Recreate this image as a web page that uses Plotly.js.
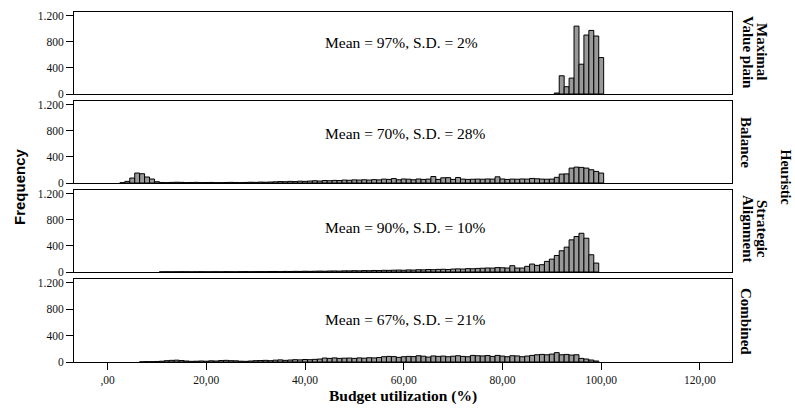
<!DOCTYPE html>
<html>
<head>
<meta charset="utf-8">
<script src="https://cdn.plot.ly/plotly-3.0.1.min.js"></script>
<style>html,body{margin:0;padding:0;background:#fff;}#chart{width:795px;height:410px;}</style>
</head>
<body>
<div id="chart"></div>
<script>
// Bin centres (Budget utilization, %)
const bins = [
  1,2,3,4,5,6,7,8,9,10,
  11,12,13,14,15,16,17,18,19,20,
  21,22,23,24,25,26,27,28,29,30,
  31,32,33,34,35,36,37,38,39,40,
  41,42,43,44,45,46,47,48,49,50,
  51,52,53,54,55,56,57,58,59,60,
  61,62,63,64,65,66,67,68,69,70,
  71,72,73,74,75,76,77,78,79,80,
  81,82,83,84,85,86,87,88,89,90,
  91,92,93,94,95,96,97,98,99,100
];

const panelLabelLines = [["Maximal", "Value plain"], ["Balance"], ["Strategic", "Alignment"], ["Combined"]];
const meanLabels = ["Mean = 97%, S.D. = 2%", "Mean = 70%, S.D. = 28%", "Mean = 90%, S.D. = 10%", "Mean = 67%, S.D. = 21%"];
const groupLabel = "Heuristic";

const maximalValue = [
  0,0,0,0,0,0,0,0,0,0,
  0,0,0,0,0,0,0,0,0,0,
  0,0,0,0,0,0,0,0,0,0,
  0,0,0,0,0,0,0,0,0,0,
  0,0,0,0,0,0,0,0,0,0,
  0,0,0,0,0,0,0,0,0,0,
  0,0,0,0,0,0,0,0,0,0,
  0,0,0,0,0,0,0,0,0,0,
  0,0,0,0,0,0,0,0,0,0,
  15,280,112,244,1043,458,906,977,891,560
];

const balance = [
  0,0,5,25,76,153,142,92,61,20,
  8,6,9,12,10,6,8,10,6,7,
  9,6,5,8,10,8,6,9,12,10,
  14,12,15,18,22,20,25,22,28,25,
  30,35,30,38,35,40,38,45,42,48,
  45,50,45,52,48,60,55,68,50,62,
  58,50,62,55,60,100,55,80,82,55,
  85,60,55,58,60,58,62,60,95,62,
  55,60,58,62,60,70,65,60,58,60,
  87,137,140,229,244,240,229,204,178,153
];

const strategic = [
  0,0,0,0,0,0,0,0,0,0,
  2,3,2,3,4,3,2,3,4,3,
  3,4,3,5,4,3,5,6,4,5,
  6,5,7,8,6,9,8,10,9,12,
  10,12,14,12,15,16,14,18,17,20,
  18,22,20,24,22,26,25,28,30,27,
  32,30,35,33,38,36,40,42,38,45,
  48,45,52,50,55,58,62,60,68,65,
  61,97,61,61,87,122,102,112,163,198,
  254,326,382,494,545,595,519,265,137,0
];

const combined = [
  0,0,0,0,0,0,3,5,5,8,
  12,20,25,28,22,15,10,12,15,12,
  18,15,22,25,20,18,12,10,15,20,
  22,25,20,28,32,25,30,35,32,38,
  35,40,45,60,55,62,55,58,60,55,
  62,58,65,62,68,80,85,82,70,80,
  85,82,95,88,75,92,85,90,80,88,
  95,85,80,100,95,92,98,85,100,90,
  80,95,92,80,90,100,110,115,110,120,
  142,110,115,105,110,55,45,30,15,0
];

const xTickVals = [0,20,40,60,80,100,120];
const xTickText = [",00","20,00","40,00","60,00","80,00","100,00","120,00"];
const yTickVals = [0,400,800,1200];
const yTickText = ["0","400","800","1.200"];

const series = [maximalValue, balance, strategic, combined];

// layout geometry (pixels)
const W = 795, H = 410;
const mL = 74, mR = 63, mT = 12, mB = 48;
const plotW = W - mL - mR, plotH = H - mT - mB;
const panelPx = [[12,94],[101,183],[190,272],[279,362]];
const px2x = p => (p - mL) / plotW;
const px2y = p => (H - mB - p) / plotH;

const serif = "Liberation Serif, Times New Roman, serif";
const traces = series.map((vals, i) => ({
  type: 'bar',
  x: bins,
  // empty bins are simply not drawn
  y: vals.map(v => (v === 0 ? null : v)),
  width: 1,
  xaxis: i === 0 ? 'x' : 'x' + (i + 1),
  yaxis: i === 0 ? 'y' : 'y' + (i + 1),
  marker: {color: '#999999', line: {color: '#000000', width: 1}},
  hoverinfo: 'x+y',
  showlegend: false
}));

const layout = {
  width: W, height: H,
  margin: {l: mL, r: mR, t: mT, b: mB, pad: 0},
  paper_bgcolor: '#ffffff',
  plot_bgcolor: '#ffffff',
  bargap: 0,
  showlegend: false,
  font: {family: serif, color: '#000'},
  annotations: []
};

for (let i = 0; i < 4; i++) {
  const sx = i === 0 ? '' : String(i + 1);
  const [top, bot] = panelPx[i];
  const last = i === 3;
  layout['xaxis' + sx] = {
    domain: [0, 1], anchor: 'y' + sx,
    range: [-6.8, 126.5],
    showline: true, mirror: true, linecolor: '#000', linewidth: 1,
    showgrid: false, zeroline: false,
    ticks: last ? 'outside' : '', ticklen: 7, tickcolor: '#000',
    showticklabels: last,
    tickvals: xTickVals, ticktext: xTickText,
    tickfont: {family: serif, size: 11.5, color: '#111'}
  };
  layout['yaxis' + sx] = {
    domain: [px2y(bot), px2y(top)], anchor: 'x' + sx,
    range: [0, 1260],
    showline: true, mirror: true, linecolor: '#000', linewidth: 1,
    showgrid: false, zeroline: false,
    ticks: 'outside', ticklen: 7, tickcolor: '#000',
    tickvals: yTickVals, ticktext: yTickText,
    tickfont: {family: serif, size: 11.5, color: '#111'}
  };
}

const meanY = [43, 133, 227, 319];
const labelY = [52, 142, 229, 321];
const labelColX = {1: [746], 2: [762, 748]};
for (let i = 0; i < 4; i++) {
  layout.annotations.push({
    xref: 'paper', yref: 'paper', x: px2x(323), y: px2y(meanY[i]),
    xanchor: 'left', yanchor: 'middle', showarrow: false,
    text: meanLabels[i], font: {family: serif, size: 15.5, color: '#000'}
  });
  const lines = panelLabelLines[i];
  lines.forEach((ln, k) => {
    layout.annotations.push({
      xref: 'paper', yref: 'paper', x: px2x(labelColX[lines.length][k]), y: px2y(labelY[i]),
      xanchor: 'center', yanchor: 'middle', showarrow: false, textangle: 90,
      text: '<b>' + ln + '</b>',
      font: {family: serif, size: 15, color: '#000'}
    });
  });
}
layout.annotations.push({
  xref: 'paper', yref: 'paper', x: px2x(795), y: px2y(177),
  xanchor: 'right', yanchor: 'middle', showarrow: false, textangle: 90,
  text: '<b>' + groupLabel + '</b>', font: {family: serif, size: 14, color: '#000'}
});
layout.annotations.push({
  xref: 'paper', yref: 'paper', x: px2x(19), y: px2y(187),
  xanchor: 'center', yanchor: 'middle', showarrow: false, textangle: -90,
  text: '<b>Frequency</b>', font: {family: 'Liberation Sans, Arial, sans-serif', size: 15, color: '#000'}
});
layout.annotations.push({
  xref: 'paper', yref: 'paper', x: 0.5, y: px2y(396),
  xanchor: 'center', yanchor: 'middle', showarrow: false,
  text: '<b>Budget utilization (%)</b>', font: {family: serif, size: 15.5, color: '#000'}
});

Plotly.newPlot('chart', traces, layout, {staticPlot: true, displayModeBar: false});
</script>
</body>
</html>
